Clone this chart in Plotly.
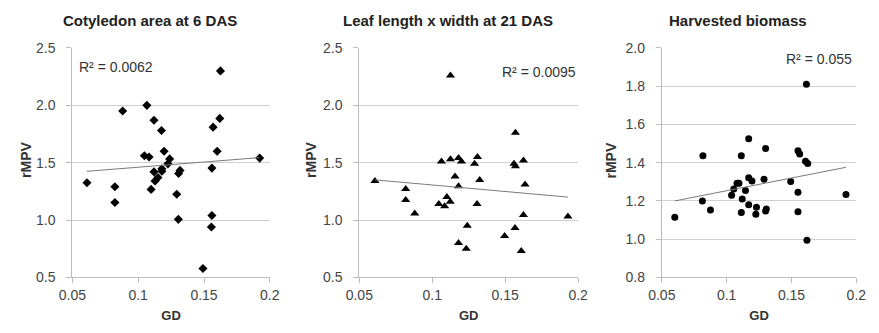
import plotly.graph_objects as go

# ---------------- data ----------------
titles = ["Cotyledon area at 6 DAS", "Leaf length x width at 21 DAS", "Harvested biomass"]
r2_labels = ["R² = 0.0062", "R² = 0.0095", "R² = 0.055"]

gd_cot = [0.1625, 0.0882, 0.1066, 0.112, 0.1177, 0.1569, 0.162, 0.160, 0.1197, 0.1047,
          0.1083, 0.1239, 0.1226, 0.118, 0.118, 0.112, 0.1318, 0.1307, 0.115, 0.1128,
          0.156, 0.1923, 0.0611, 0.0823, 0.1098, 0.1293, 0.0823, 0.1305, 0.156, 0.1556,
          0.1492]
rmpv_cot = [2.30, 1.95, 2.00, 1.87, 1.78, 1.81, 1.886, 1.60, 1.60, 1.56,
            1.55, 1.533, 1.49, 1.447, 1.425, 1.42, 1.433, 1.406, 1.37, 1.34,
            1.453, 1.54, 1.325, 1.29, 1.267, 1.225, 1.153, 1.006, 1.039, 0.939,
            0.578]

gd_leaf = [0.1125, 0.157, 0.1063, 0.1125, 0.12, 0.118, 0.129, 0.131, 0.156, 0.157,
           0.1625, 0.0607, 0.0818, 0.0818, 0.088, 0.1045, 0.1085, 0.11, 0.1123, 0.1156,
           0.118, 0.1325, 0.1307, 0.1636, 0.1625, 0.193, 0.124, 0.118, 0.1233, 0.1496,
           0.1567, 0.161]
rmpv_leaf = [2.26, 1.76, 1.51, 1.53, 1.51, 1.54, 1.49, 1.55, 1.49, 1.47,
             1.52, 1.34, 1.27, 1.175, 1.056, 1.14, 1.12, 1.20, 1.16, 1.38,
             1.294, 1.35, 1.14, 1.31, 1.045, 1.03, 0.95, 0.80, 0.75, 0.86,
             0.93, 0.73]

gd_bio = [0.1615, 0.0817, 0.1113, 0.117, 0.130, 0.155, 0.1563, 0.1608, 0.1625, 0.06,
          0.0813, 0.0875, 0.1038, 0.1055, 0.108, 0.1095, 0.1145, 0.112, 0.1113, 0.117,
          0.1195, 0.117, 0.123, 0.1225, 0.1288, 0.130, 0.1306, 0.1494, 0.155, 0.155,
          0.1619, 0.192]
rmpv_bio = [1.81, 1.436, 1.436, 1.525, 1.474, 1.462, 1.446, 1.407, 1.396, 1.114,
            1.20, 1.152, 1.23, 1.263, 1.293, 1.293, 1.254, 1.21, 1.139, 1.321,
            1.304, 1.18, 1.167, 1.13, 1.313, 1.147, 1.158, 1.301, 1.246, 1.143,
            0.994, 1.233]

# linear trendlines (endpoints)
trend_x_cot, trend_y_cot = [0.061, 0.192], [1.425, 1.544]
trend_x_leaf, trend_y_leaf = [0.061, 0.193], [1.35, 1.20]
trend_x_bio, trend_y_bio = [0.060, 0.192], [1.20, 1.376]

x_ticks = [0.05, 0.1, 0.15, 0.2]
x_ticklabels = ["0.05", "0.1", "0.15", "0.2"]
y_ticks_a = [0.5, 1.0, 1.5, 2.0, 2.5]
y_ticks_b = [0.8, 1.0, 1.2, 1.4, 1.6, 1.8, 2.0]

panels = [
    dict(x=gd_cot, y=rmpv_cot, tx=trend_x_cot, ty=trend_y_cot,
         symbol="diamond", size=7, yticks=y_ticks_a, yr=[0.5, 2.5]),
    dict(x=gd_leaf, y=rmpv_leaf, tx=trend_x_leaf, ty=trend_y_leaf,
         symbol="triangle-up", size=8, yticks=y_ticks_a, yr=[0.5, 2.5]),
    dict(x=gd_bio, y=rmpv_bio, tx=trend_x_bio, ty=trend_y_bio,
         symbol="circle", size=7, yticks=y_ticks_b, yr=[0.8, 2.0]),
]

# ---------------- layout geometry ----------------
W, H = 879, 333
x_doms = [(60 / W, 263 / W), (355 / W, 580 / W), (666 / W, 866 / W)]
y_dom = (1 - 283 / H, 1 - 42 / H)
r2_pos = [(65, 62, "left"), (580, 67, "right"), (864, 54, "right")]
title_cx = [140, 446, 744]
ylab_cx = [13, 306, 614]

FONT = "Liberation Sans, Arial, sans-serif"
fig = go.Figure()
annotations = []

for i, p in enumerate(panels):
    ax = "" if i == 0 else str(i + 1)
    xa, ya = "x" + ax, "y" + ax
    fig.add_trace(go.Scatter(
        x=p["x"], y=p["y"], mode="markers", xaxis=xa, yaxis=ya,
        marker=dict(symbol=p["symbol"], size=p["size"], color="black"),
        showlegend=False, hoverinfo="x+y"))
    fig.add_trace(go.Scatter(
        x=p["tx"], y=p["ty"], mode="lines", xaxis=xa, yaxis=ya,
        line=dict(color="#7a7a7a", width=1), showlegend=False, hoverinfo="skip"))

    fig.layout["xaxis" + ax] = dict(
        domain=list(x_doms[i]), anchor=ya, range=[0.05, 0.2],
        tickvals=x_ticks, ticktext=x_ticklabels,
        showgrid=False, zeroline=False, showline=True, linecolor="#bdbdbd", linewidth=1,
        ticks="outside", ticklen=5, tickcolor="#bdbdbd",
        tickfont=dict(family=FONT, size=14, color="#444"),
        title=dict(text="<b>GD</b>", font=dict(family=FONT, size=13, color="#333"), standoff=8),
        fixedrange=True)
    fig.layout["yaxis" + ax] = dict(
        domain=list(y_dom), anchor=xa, range=p["yr"], tickvals=p["yticks"],
        tickformat=".1f",
        showgrid=True, gridcolor="#d0d0d0", gridwidth=1, zeroline=False,
        showline=True, linecolor="#bdbdbd", linewidth=1,
        ticks="outside", ticklen=5, tickcolor="#bdbdbd",
        ticklabelstandoff=8,
        tickfont=dict(family=FONT, size=14, color="#444"),
        fixedrange=True)

    annotations.append(dict(
        text="<b>" + titles[i] + "</b>", x=title_cx[i] / W, y=1 - 13 / H,
        xref="paper", yref="paper", xanchor="center", yanchor="middle", showarrow=False,
        font=dict(family=FONT, size=15, color="#222")))
    annotations.append(dict(
        text="<b>rMPV</b>", x=ylab_cx[i] / W, y=1 - 160 / H, textangle=-90,
        xref="paper", yref="paper", xanchor="center", yanchor="middle", showarrow=False,
        font=dict(family=FONT, size=14, color="#333")))
    rx, ry, anc = r2_pos[i]
    annotations.append(dict(
        text=r2_labels[i], x=rx / W, y=1 - ry / H, xref="paper", yref="paper",
        xanchor=anc, yanchor="middle", showarrow=False,
        font=dict(family=FONT, size=14, color="#333")))

fig.update_layout(
    width=W, height=H, margin=dict(l=0, r=0, t=0, b=0),
    paper_bgcolor="white", plot_bgcolor="white",
    annotations=annotations)

fig.write_html("out.html", config={"displayModeBar": False})
